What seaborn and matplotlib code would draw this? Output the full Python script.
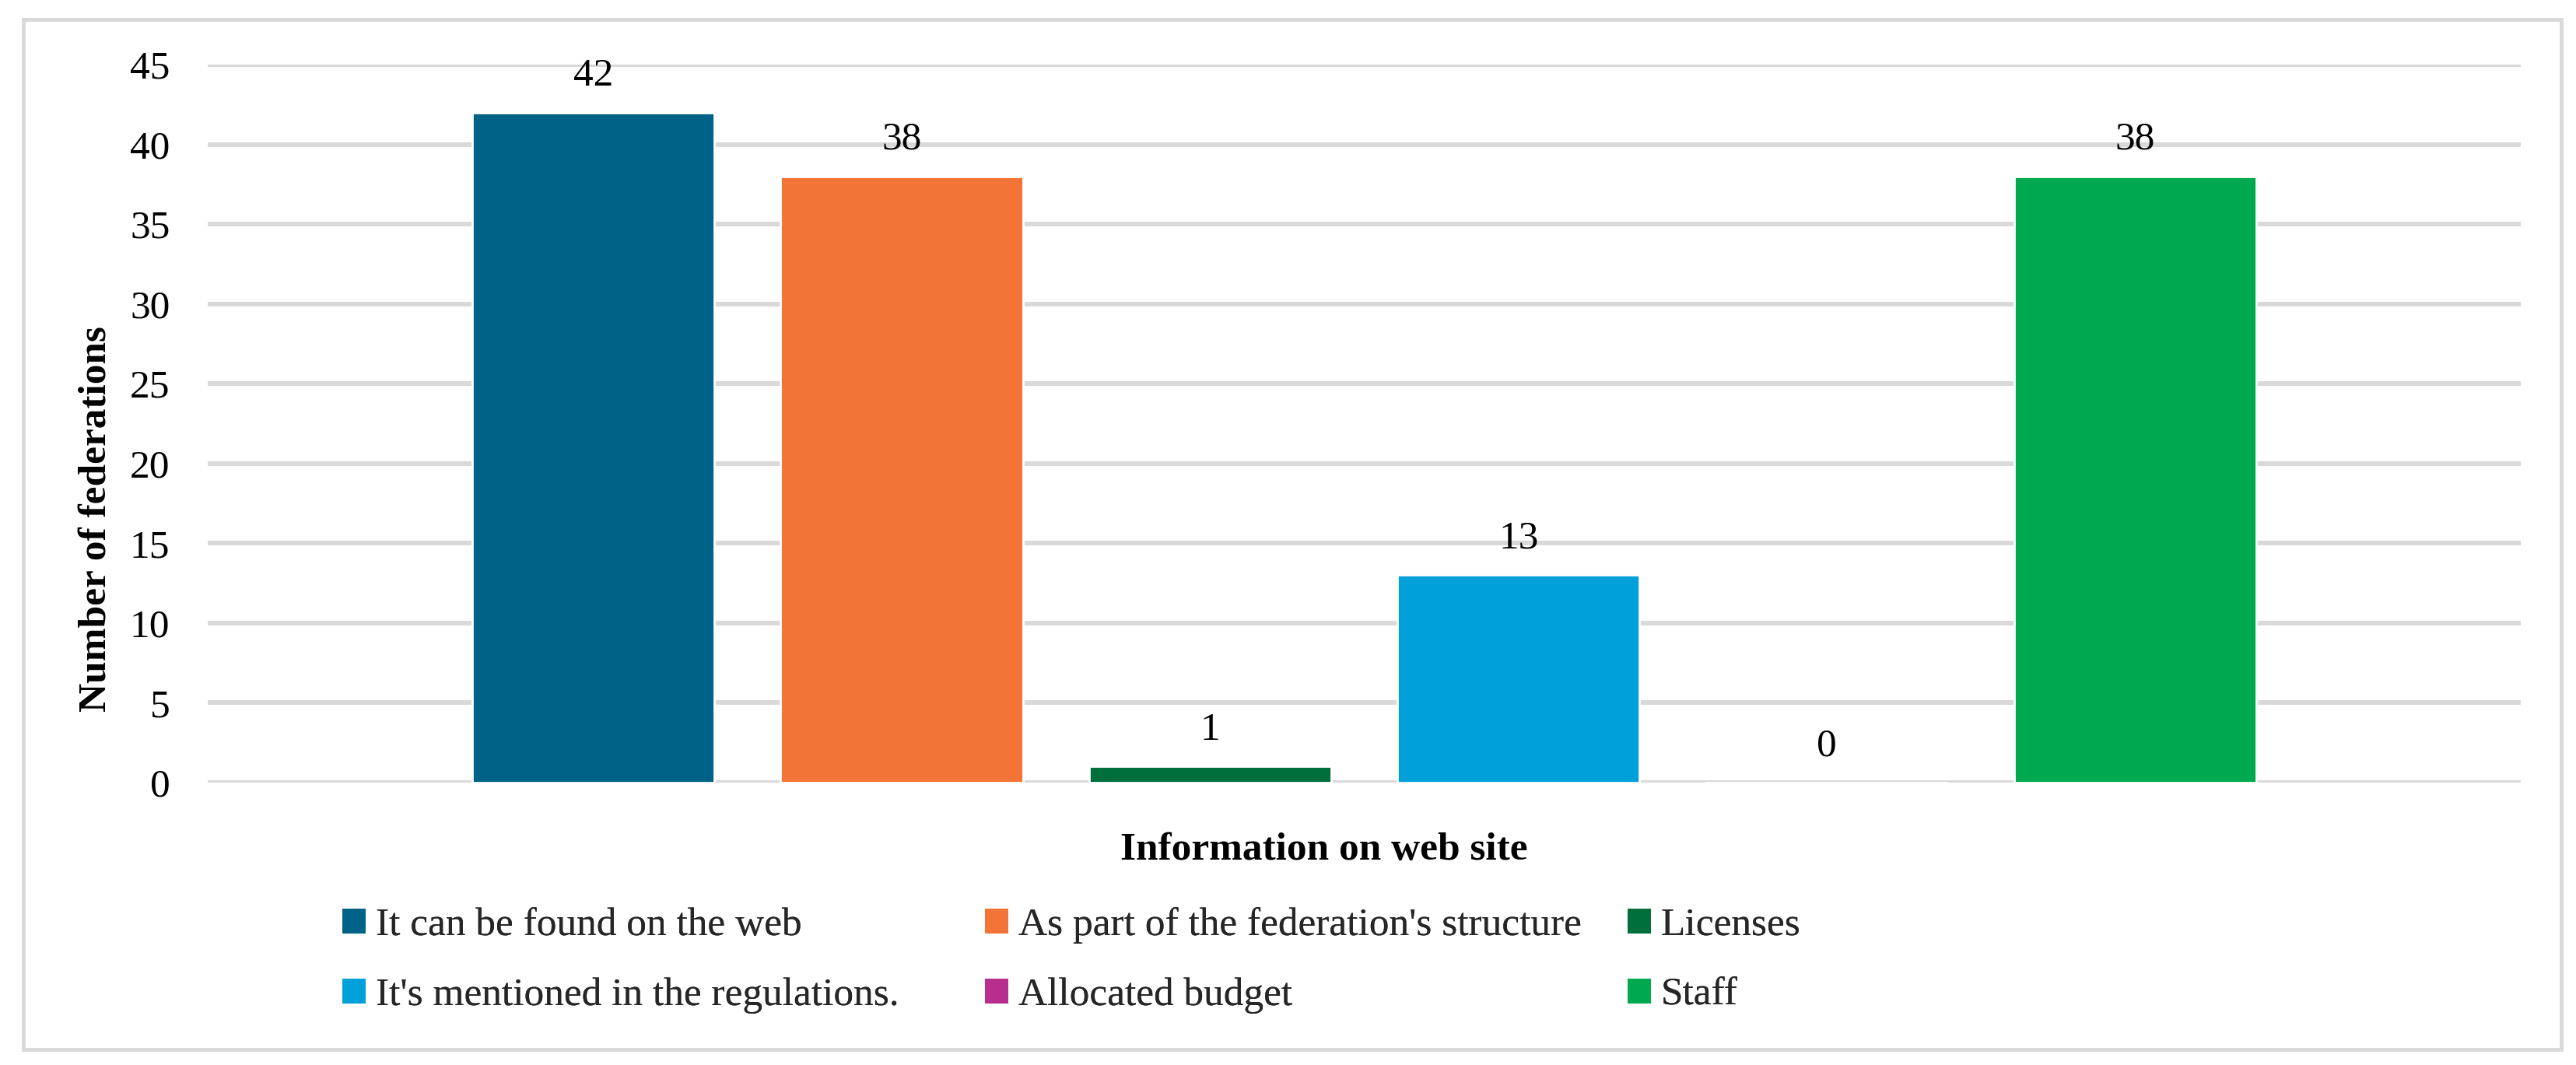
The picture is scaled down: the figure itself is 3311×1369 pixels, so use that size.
import matplotlib
matplotlib.use("Agg")
import matplotlib.pyplot as plt
import seaborn as sns
import pandas as pd
from matplotlib.patches import Rectangle, Patch

# ---- data ----
category = ["Information on web site"]
series = ["It can be found on the web",
          "As part of the federation's structure",
          "Licenses",
          "It's mentioned in the regulations.",
          "Allocated budget",
          "Staff"]
values = [42, 38, 1, 13, 0, 38]
colors = ["#006286", "#F37437", "#006F3C", "#00A1DB", "#B82E8F", "#00A84F"]
y_ticks = [0, 5, 10, 15, 20, 25, 30, 35, 40, 45]

df = pd.DataFrame({"cat": category * len(series), "series": series, "value": values})

sns.set_theme(style="white")
plt.rcParams['font.family'] = ['Liberation Serif', 'DejaVu Serif']
FS = 18.5

W, H, DPI = 3311, 1369, 200
L, R, T, B = 267, 3240, 83, 1006
fig = plt.figure(figsize=(W / DPI, H / DPI), dpi=DPI)
fig.patch.set_facecolor("white")
ax = fig.add_axes([L / W, 1 - B / H, (R - L) / W, (B - T) / H])

sns.barplot(data=df, x="cat", y="value", hue="series", hue_order=series,
            palette=colors, width=0.8, gap=0.214, saturation=1, ax=ax,
            legend=True)

for cont in ax.containers:
    ax.bar_label(cont, fmt="%d", padding=8.6, fontsize=FS, color="black")

ax.set_ylim(0, 45)
ax.set_xlim(-0.5, 0.5)
ax.set_yticks(y_ticks)
ax.set_yticklabels([str(t) for t in y_ticks], fontsize=FS, color="black")
ax.tick_params(axis="y", length=0, pad=17.5)
ax.set_xticks([])
ax.yaxis.grid(True, color="#D9D9D9", linewidth=2.16)
ax.set_axisbelow(True)
for s in ax.spines.values():
    s.set_visible(False)

ax.set_xlabel("Information on web site", fontsize=FS, fontweight="bold", color="black")
ax.xaxis.set_label_coords((1702 - L) / (R - L), -(1093 - B) / (B - T))
ax.xaxis.label.set_va("center")
ax.set_ylabel("Number of federations", fontsize=FS, fontweight="bold", color="black")
ax.yaxis.set_label_coords((123 - L) / (R - L), (B - 667) / (B - T))
ax.yaxis.label.set_va("center")

# legend: three columns placed like the original
if ax.get_legend() is not None:
    ax.get_legend().remove()
cols = [[series[0], series[3]], [series[1], series[4]], [series[2], series[5]]]
col_x = [440, 1266, 2092]
for cx, names in zip(col_x, cols):
    hs = [Patch(facecolor=colors[series.index(n)], edgecolor="none") for n in names]
    leg = fig.legend(hs, names, loc="center left",
                     bbox_to_anchor=(cx / W, 1 - 1234.5 / H),
                     frameon=False, fontsize=FS, borderpad=0, borderaxespad=0,
                     handlelength=0.58, handleheight=0.58, handletextpad=0.25,
                     labelspacing=0.85)
    fig.add_artist(leg)

# outer frame
fig.add_artist(Rectangle((30 / W, 1 - 1349 / H), (3292 - 30) / W, (1349 - 25) / H,
                         transform=fig.transFigure, fill=False,
                         edgecolor="#D9D9D9", linewidth=1.8))

fig.savefig("out.png", dpi=DPI, facecolor="white")
